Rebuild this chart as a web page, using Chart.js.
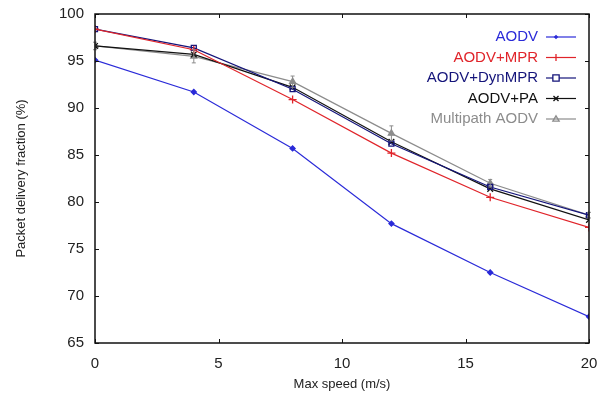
<!DOCTYPE html>
<html>
<head>
<meta charset="utf-8">
<script src="https://cdn.jsdelivr.net/npm/chart.js@4.4.1/dist/chart.umd.min.js"></script>
<style>
  html, body { margin: 0; padding: 0; background: #fff; }
  #wrap { width: 602px; height: 394px; }
</style>
</head>
<body>
<div id="wrap"><canvas id="chart" width="602" height="394"></canvas></div>
<script>
const speeds = [0, 4, 8, 12, 16, 20]
const seriesNames = ["AODV", "AODV+MPR", "AODV+DynMPR", "AODV+PA", "Multipath AODV"]
const aodv = [95.1, 91.7, 85.7, 77.7, 72.5, 67.8]
const aodvMpr = [98.4, 96.2, 90.9, 85.2, 80.5, 77.3]
const aodvDynMpr = [98.4, 96.4, 92.0, 86.2, 81.6, 78.6]
const aodvPa = [96.6, 95.7, 92.2, 86.4, 81.4, 78.1]
const multipath = [96.6, 95.5, 92.8, 87.3, 82.0, 78.6]
const multipathErr = [0.4, 0.7, 0.6, 0.8, 0.4, 0.3]
const yTicks = [65, 70, 75, 80, 85, 90, 95, 100]
const xTicks = [0, 5, 10, 15, 20]

const colors = ["#2a2ad8", "#e0242a", "#14147a", "#111111", "#8c8c8c"]
const styles = ["rectRot", "cross", "rect", "crossRot", "triangle"]
const radii = [2.5, 4, 3.5, 4, 3.5]
const allValues = [aodv, aodvMpr, aodvDynMpr, aodvPa, multipath]

const datasets = allValues.map((vals, i) => ({
    label: seriesNames[i],
    data: vals.map((v, j) => ({ x: speeds[j], y: v })),
    borderColor: colors[i],
    backgroundColor: i == 2 ? "rgba(255,255,255,0)" : colors[i],
    borderWidth: 1.2,
    pointStyle: styles[i],
    pointRadius: radii[i],
    pointBorderWidth: 1.3,
    tension: 0
}))

function drawMarker(ctx, style, x, y, r, color) {
    ctx.save()
    ctx.strokeStyle = color
    ctx.fillStyle = color
    ctx.lineWidth = 1.3
    ctx.beginPath()
    if (style == "rectRot") {
        ctx.moveTo(x, y - r); ctx.lineTo(x + r, y); ctx.lineTo(x, y + r); ctx.lineTo(x - r, y); ctx.closePath()
        ctx.fill()
    } else if (style == "cross") {
        ctx.moveTo(x, y - r); ctx.lineTo(x, y + r); ctx.stroke()
    } else if (style == "rect") {
        ctx.rect(x - r, y - r, 2 * r, 2 * r); ctx.fillStyle = "#fff"; ctx.fill(); ctx.stroke()
    } else if (style == "crossRot") {
        ctx.moveTo(x - r * 0.7, y - r * 0.7); ctx.lineTo(x + r * 0.7, y + r * 0.7)
        ctx.moveTo(x + r * 0.7, y - r * 0.7); ctx.lineTo(x - r * 0.7, y + r * 0.7); ctx.stroke()
    } else {
        ctx.moveTo(x, y - r); ctx.lineTo(x + r, y + r * 0.7); ctx.lineTo(x - r, y + r * 0.7); ctx.closePath(); ctx.stroke()
    }
    ctx.restore()
}

// box round the plot with small ticks pointing inward, error bars and the legend
const framePlugin = {
    id: "frame",
    afterDatasetsDraw(chart) {
        const ctx = chart.ctx
        const a = chart.chartArea
        const xs = chart.scales.x
        const ys = chart.scales.y
        ctx.save()
        // error bars on the multipath series
        ctx.strokeStyle = colors[4]
        ctx.lineWidth = 1
        multipath.forEach((v, j) => {
            const px = xs.getPixelForValue(speeds[j])
            const top = ys.getPixelForValue(v + multipathErr[j])
            const bot = ys.getPixelForValue(v - multipathErr[j])
            ctx.beginPath()
            ctx.moveTo(px, top); ctx.lineTo(px, bot)
            ctx.moveTo(px - 2, top); ctx.lineTo(px + 2, top)
            ctx.moveTo(px - 2, bot); ctx.lineTo(px + 2, bot)
            ctx.stroke()
        })
        ctx.strokeStyle = "#111"
        ctx.lineWidth = 1.5
        ctx.strokeRect(a.left, a.top, a.right - a.left, a.bottom - a.top)
        ctx.lineWidth = 1
        ctx.beginPath()
        yTicks.forEach(t => {
            const py = Math.round(ys.getPixelForValue(t)) + 0.5
            ctx.moveTo(a.left, py); ctx.lineTo(a.left + 4, py)
            ctx.moveTo(a.right, py); ctx.lineTo(a.right - 4, py)
        })
        xTicks.forEach(t => {
            const px = Math.round(xs.getPixelForValue(t)) + 0.5
            ctx.moveTo(px, a.bottom); ctx.lineTo(px, a.bottom - 4)
            ctx.moveTo(px, a.top); ctx.lineTo(px, a.top + 4)
        })
        ctx.stroke()

        // legend: text right aligned, sample line on its right
        ctx.font = "15px 'Liberation Sans', Arial, sans-serif"
        ctx.textAlign = "right"
        ctx.textBaseline = "middle"
        seriesNames.forEach((name, i) => {
            const y = 37 + i * 20.5
            ctx.fillStyle = colors[i]
            ctx.fillText(name, 538, y)
            ctx.strokeStyle = colors[i]
            ctx.lineWidth = 1.2
            ctx.beginPath()
            ctx.moveTo(546, y); ctx.lineTo(576, y)
            ctx.stroke()
            drawMarker(ctx, styles[i], 556, y, radii[i] * 0.9, colors[i])
        })
        ctx.restore()
    }
}

const tickFont = { family: "'Liberation Sans', Arial, sans-serif", size: 15 }
const titleFont = { family: "'Liberation Sans', Arial, sans-serif", size: 13 }

new Chart(document.getElementById("chart").getContext("2d"), {
    type: "line",
    data: { datasets: datasets },
    options: {
        responsive: false,
        animation: false,
        layout: { padding: { top: 14, right: 13, left: 0, bottom: 0 } },
        plugins: { legend: { display: false }, tooltip: { enabled: false } },
        scales: {
            x: {
                type: "linear",
                min: 0,
                max: 20,
                afterBuildTicks: s => { s.ticks = xTicks.map(v => ({ value: v })) },
                afterFit: s => { s.height = 51; s.paddingLeft = 0; s.paddingRight = 0 },
                grid: { display: false, drawTicks: false },
                border: { display: false },
                ticks: { color: "#222", font: tickFont, padding: 12, maxRotation: 0 },
                title: { display: true, text: "Max speed (m/s)", color: "#222", font: titleFont, padding: { top: 0, bottom: 2 } }
            },
            y: {
                min: 65,
                max: 100,
                afterBuildTicks: s => { s.ticks = yTicks.map(v => ({ value: v })) },
                afterFit: s => { s.width = 95; s.paddingTop = 0; s.paddingBottom = 0 },
                grid: { display: false, drawTicks: false },
                border: { display: false },
                ticks: { color: "#222", font: tickFont, padding: 11 },
                title: { display: true, text: "Packet delivery fraction (%)", color: "#222", font: titleFont, padding: { top: 14, bottom: 0 } }
            }
        }
    },
    plugins: [framePlugin]
})
</script>
</body>
</html>
